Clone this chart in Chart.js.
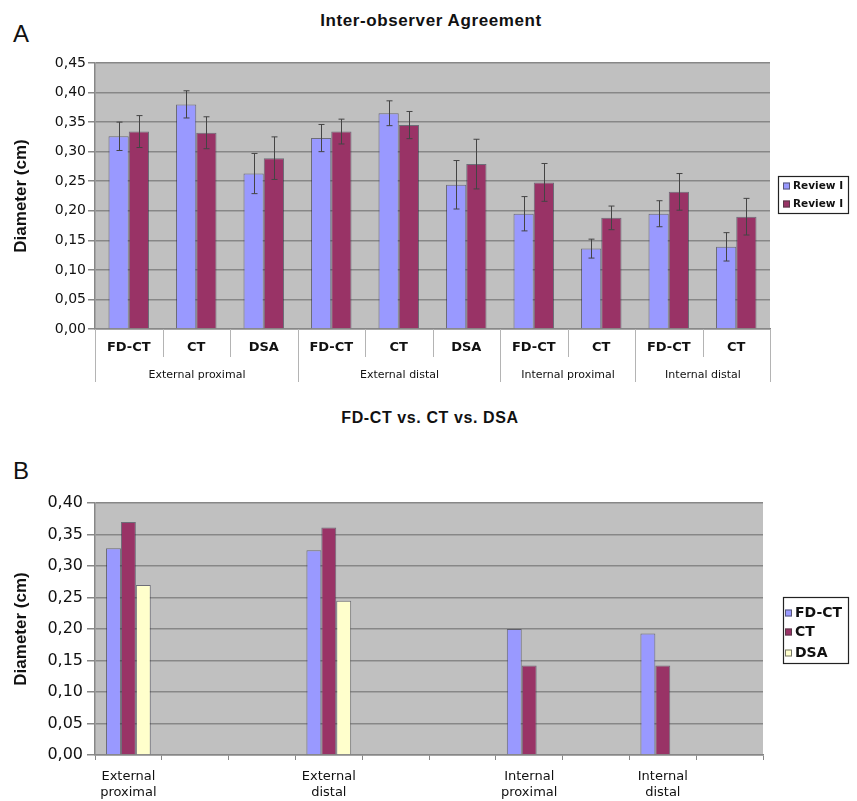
<!DOCTYPE html>
<html>
<head>
<meta charset="utf-8">
<script src="https://cdn.jsdelivr.net/npm/chart.js@4.4.1/dist/chart.umd.min.js"></script>
<style>
  body { margin: 0; background: #fff; width: 857px; height: 801px; position: relative; overflow: hidden; }
  canvas { position: absolute; left: 0; }
  .txt { position: absolute; font-family: "Liberation Sans", Arial, sans-serif; color: #111; white-space: nowrap; }
  .panel { font-size: 24px; line-height: 24px; left: 13px; }
  .title { font-weight: bold; line-height: 17px; transform: translateX(-50%); letter-spacing: 0.6px; }
</style>
</head>
<body>
<div class="txt panel" style="top:22px">A</div>
<div class="txt title" style="top:12px;left:431px;font-size:17px">Inter-observer Agreement</div>
<canvas id="chartA" width="857" height="400" style="top:0"></canvas>

<div class="txt title" style="top:409px;left:430px;font-size:16px">FD-CT vs. CT vs. DSA</div>
<div class="txt panel" style="top:459px">B</div>
<canvas id="chartB" width="857" height="401" style="top:400px"></canvas>

<script>
// Panel A: inter-observer agreement, mean diameter per reviewer with error bars
const methodsA = ['FD-CT', 'CT', 'DSA', 'FD-CT', 'CT', 'DSA', 'FD-CT', 'CT', 'FD-CT', 'CT'];
const segmentsA = ['External proximal', 'External distal', 'Internal proximal', 'Internal distal'];
const segmentSizesA = [3, 3, 2, 2];
const review1 = [0.326, 0.380, 0.263, 0.323, 0.365, 0.244, 0.195, 0.136, 0.195, 0.139];
const review1Err = [0.024, 0.023, 0.034, 0.023, 0.021, 0.041, 0.029, 0.016, 0.022, 0.024];
const review2 = [0.334, 0.332, 0.289, 0.334, 0.345, 0.279, 0.248, 0.188, 0.232, 0.190];
const review2Err = [0.027, 0.027, 0.036, 0.021, 0.023, 0.042, 0.032, 0.020, 0.031, 0.031];
const seriesNamesA = ['Review I', 'Review I'];

// Panel B: FD-CT vs CT vs DSA per segment (slots left empty as in the original sheet)
const segmentsB = [['External', 'proximal'], '', '', ['External', 'distal'], '', '', ['Internal', 'proximal'], '', ['Internal', 'distal'], ''];
const fdct = [0.328, null, null, 0.325, null, null, 0.200, null, 0.193, null];
const ct = [0.370, null, null, 0.361, null, null, 0.142, null, 0.142, null];
const dsa = [0.270, null, null, 0.245, null, null, null, null, null, null];
const seriesNamesB = ['FD-CT', 'CT', 'DSA'];

const BLUE = '#9999ff';
const MAROON = '#993366';
const CREAM = '#ffffcc';
const PLOT_BG = '#c0c0c0';
const GRID = '#878787';
const BAR_EDGE = 'rgba(40,40,60,0.55)';

Chart.defaults.font.family = '"DejaVu Sans", sans-serif';
Chart.defaults.color = '#111';
Chart.defaults.animation = false;

const commaTick = (v) => v.toFixed(2).replace('.', ',');

// grey plot background, painted before the grid
const plotBackground = {
  id: 'plotBackground',
  beforeDraw(chart) {
    const { ctx, chartArea: a } = chart;
    ctx.save();
    ctx.fillStyle = PLOT_BG;
    ctx.fillRect(a.left, a.top, a.right - a.left, a.bottom - a.top);
    ctx.restore();
  },
};

// vertical error bars from dataset.errors, positioned by the bar elements and y scale
const errorBars = {
  id: 'errorBars',
  afterDatasetsDraw(chart) {
    const { ctx } = chart;
    const y = chart.scales.y;
    ctx.save();
    ctx.strokeStyle = '#444';
    ctx.lineWidth = 1;
    chart.data.datasets.forEach((ds, i) => {
      if (!ds.errors) return;
      chart.getDatasetMeta(i).data.forEach((bar, j) => {
        const v = ds.data[j];
        const e = ds.errors[j];
        if (v == null || e == null) return;
        const x = Math.round(bar.x) + 0.5;
        const top = y.getPixelForValue(v + e);
        const bot = y.getPixelForValue(v - e);
        ctx.beginPath();
        ctx.moveTo(x, top); ctx.lineTo(x, bot);
        ctx.moveTo(x - 3, top); ctx.lineTo(x + 3, top);
        ctx.moveTo(x - 3, bot); ctx.lineTo(x + 3, bot);
        ctx.stroke();
      });
    });
    ctx.restore();
  },
};

// two-row category table under panel A
const segmentAxis = {
  id: 'segmentAxis',
  afterDraw(chart) {
    const { ctx, chartArea: a } = chart;
    const x = chart.scales.x;
    const edge = (i) => Math.round(x.getPixelForValue(i - 0.5)) + 0.5;
    ctx.save();
    ctx.strokeStyle = '#b4b4b4';
    ctx.lineWidth = 1;
    const bounds = new Set([0]);
    let acc = 0;
    segmentSizesA.forEach((n) => { acc += n; bounds.add(acc); });
    for (let i = 0; i <= methodsA.length; i++) {
      const px = edge(i);
      ctx.beginPath();
      ctx.moveTo(px, a.bottom);
      ctx.lineTo(px, bounds.has(i) ? a.bottom + 53 : a.bottom + 28);
      ctx.stroke();
    }
    ctx.fillStyle = '#111';
    ctx.font = '11px "DejaVu Sans", sans-serif';
    ctx.textAlign = 'center';
    ctx.textBaseline = 'middle';
    let start = 0;
    segmentsA.forEach((name, k) => {
      const end = start + segmentSizesA[k];
      ctx.fillText(name, (edge(start) + edge(end)) / 2, a.bottom + 46);
      start = end;
    });
    ctx.restore();
  },
};

// boxed legend in the right margin
const boxLegend = {
  id: 'boxLegend',
  afterDraw(chart, args, opts) {
    const { ctx } = chart;
    const { box, rows, font, markerX, textX } = opts;
    ctx.save();
    ctx.fillStyle = '#fff';
    ctx.fillRect(box.x, box.y, box.w, box.h);
    ctx.strokeStyle = '#222';
    ctx.lineWidth = 1.2;
    ctx.strokeRect(box.x + 0.5, box.y + 0.5, box.w, box.h);
    ctx.font = font;
    ctx.textBaseline = 'middle';
    ctx.textAlign = 'left';
    chart.data.datasets.forEach((ds, i) => {
      const cy = rows[i];
      ctx.fillStyle = ds.backgroundColor;
      ctx.fillRect(markerX, cy - 3.5, 7, 7);
      ctx.strokeStyle = 'rgba(60,60,60,0.7)';
      ctx.lineWidth = 1;
      ctx.strokeRect(markerX + 0.5, cy - 3, 6, 6);
      ctx.fillStyle = '#111';
      ctx.fillText(ds.label, textX, cy + 0.5);
    });
    ctx.restore();
  },
};

function barSet(label, data, color, errors) {
  return {
    label,
    data,
    errors,
    backgroundColor: color,
    borderColor: BAR_EDGE,
    borderWidth: 1,
    barPercentage: 1.0,
  };
}

function yAxis(max, fontSize, tickLen, pad, width) {
  return {
    min: 0,
    max,
    ticks: { stepSize: 0.05, callback: commaTick, font: { size: fontSize }, padding: pad, color: '#111' },
    grid: { color: GRID, lineWidth: 1.5, tickLength: tickLen, tickColor: GRID },
    border: { display: true, color: GRID, width: 1.5 },
    title: { display: true, text: 'Diameter (cm)', font: { size: 17, weight: 'bold', family: '"Liberation Sans", Arial, sans-serif' }, padding: { top: 11, bottom: 0 }, color: '#111' },
    afterFit: (scale) => { scale.width = width; },
  };
}

new Chart(document.getElementById('chartA'), {
  type: 'bar',
  data: {
    labels: methodsA,
    datasets: [
      barSet(seriesNamesA[0], review1, BLUE, review1Err),
      barSet(seriesNamesA[1], review2, MAROON, review2Err),
    ],
  },
  options: {
    responsive: false,
    devicePixelRatio: 1,
    layout: { padding: { top: 63, right: 87, bottom: 0, left: 0 } },
    datasets: { bar: { categoryPercentage: 0.6 } },
    scales: {
      x: {
        grid: { display: false, drawTicks: false },
        border: { display: true, color: GRID, width: 1.5 },
        ticks: { font: { size: 13, weight: 'bold' }, padding: 11, maxRotation: 0, autoSkip: false, color: '#111' },
        afterFit: (scale) => { scale.height = 71; },
      },
      y: yAxis(0.45, 14, 7, 2, 95),
    },
    plugins: {
      legend: { display: false },
      tooltip: { enabled: false },
      boxLegend: {
        box: { x: 778, y: 176, w: 70, h: 37 },
        rows: [186, 204],
        markerX: 783,
        textX: 793,
        font: 'bold 10.5px "DejaVu Sans", sans-serif',
      },
    },
  },
  plugins: [plotBackground, errorBars, segmentAxis, boxLegend],
});

new Chart(document.getElementById('chartB'), {
  type: 'bar',
  data: {
    labels: segmentsB,
    datasets: [
      barSet(seriesNamesB[0], fdct, BLUE),
      barSet(seriesNamesB[1], ct, MAROON),
      barSet(seriesNamesB[2], dsa, CREAM),
    ],
  },
  options: {
    responsive: false,
    devicePixelRatio: 1,
    layout: { padding: { top: 103, right: 94, bottom: 0, left: 0 } },
    datasets: { bar: { categoryPercentage: 0.67 } },
    scales: {
      x: {
        grid: { drawOnChartArea: false, drawTicks: true, tickLength: 5, color: GRID, offset: true },
        border: { display: true, color: GRID, width: 1.5 },
        ticks: { font: { size: 13, lineHeight: '16px' }, padding: 9, maxRotation: 0, autoSkip: false, color: '#111' },
        afterFit: (scale) => { scale.height = 46; },
      },
      y: yAxis(0.40, 16, 8, 4, 95),
    },
    plugins: {
      legend: { display: false },
      tooltip: { enabled: false },
      boxLegend: {
        box: { x: 783, y: 197, w: 65, h: 66 },
        rows: [213, 232, 253],
        markerX: 785,
        textX: 795,
        font: 'bold 14px "DejaVu Sans", sans-serif',
      },
    },
  },
  plugins: [plotBackground, boxLegend],
});
</script>
</body>
</html>
